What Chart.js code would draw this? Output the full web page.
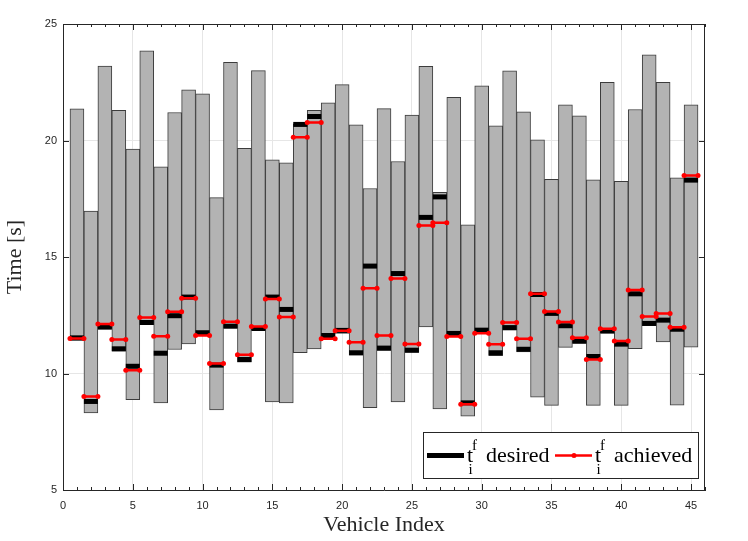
<!DOCTYPE html>
<html>
<head>
<meta charset="utf-8">
<script src="https://cdn.jsdelivr.net/npm/chart.js@4.4.1/dist/chart.umd.min.js"></script>
<style>
  html,body{margin:0;background:#fff}
  canvas{display:block}
</style>
</head>
<body>
<canvas id="chart" width="748" height="541"></canvas>
<script>
// vehicle index on x, arrival time window [s] as grey bars
const vehicles = Array.from({length: 45}, (_, i) => i + 1);
const windowLatest = [21.36,16.97,23.19,21.30,19.63,23.85,18.87,21.20,22.17,22.00,17.55,23.36,19.66,23.00,19.17,19.04,20.72,21.29,21.62,22.40,20.67,17.94,21.37,19.10,21.09,23.18,17.78,21.85,16.38,22.35,20.63,22.99,21.23,20.03,18.33,21.53,21.06,18.31,22.50,18.25,21.33,23.68,22.50,18.40,21.53];
const windowEarliest = [11.42,8.31,11.93,10.96,8.88,12.10,8.74,11.03,11.27,11.67,8.44,11.96,10.49,11.87,8.78,8.74,10.89,11.06,11.57,11.72,10.79,8.53,10.99,8.78,10.90,12.00,8.48,11.65,8.17,11.78,10.77,11.86,10.93,8.98,8.63,11.12,11.29,8.63,11.74,8.63,11.07,12.05,11.36,8.64,11.13];
const desired = [11.53,8.80,11.99,11.06,10.31,12.19,10.87,12.48,13.28,11.75,10.36,12.03,10.60,11.93,13.28,12.75,20.69,21.03,11.63,11.85,10.89,14.61,11.09,14.29,11.00,16.70,17.58,11.72,8.74,11.86,10.89,11.97,11.04,13.39,12.58,12.05,11.39,10.73,11.82,11.26,13.42,12.15,12.29,11.90,18.30];
const achieved = [11.50,9.01,12.12,11.46,10.14,12.40,11.60,12.65,13.23,11.63,10.43,12.22,10.80,12.02,13.20,12.42,20.14,20.77,11.49,11.83,11.34,13.66,11.63,14.08,11.27,16.35,16.47,11.59,8.68,11.73,11.26,12.19,11.49,13.42,12.66,12.21,11.53,10.60,11.92,11.39,13.58,12.45,12.58,11.99,18.50];
const xTicks = [0,5,10,15,20,25,30,35,40,45];
const yTicks = [5,10,15,20,25];

const axisCol = '#262626';
Chart.defaults.font.family = '"Liberation Sans", Arial, sans-serif';

// red segment per vehicle, broken by a null point
const achievedPts = vehicles.flatMap((v, i) => [{x: v - 0.5, y: achieved[i]}, {x: v + 0.5, y: achieved[i]}, {x: v, y: null}]);

function drawLabel(ctx, x, word) {
  ctx.fillStyle = '#000';
  ctx.textAlign = 'left';
  ctx.textBaseline = 'alphabetic';
  ctx.font = '22px "Liberation Serif"';
  ctx.fillText('t', x, 462);
  ctx.font = '15px "Liberation Serif"';
  ctx.fillText('f', x + 5, 450);
  ctx.fillText('i', x + 1.5, 474);
  ctx.font = '22px "Liberation Serif"';
  ctx.fillText(word, x + 19, 462);
}

const framePlugin = {
  id: 'frame',
  afterDatasetsDraw(chart) {
    const {ctx, chartArea: a, scales: {x, y}} = chart;
    ctx.save();
    ctx.strokeStyle = axisCol;
    ctx.lineWidth = 1;
    ctx.beginPath();
    ctx.moveTo(a.left, a.top + 0.5); ctx.lineTo(a.right, a.top + 0.5);
    ctx.moveTo(a.right - 0.5, a.top); ctx.lineTo(a.right - 0.5, a.bottom);
    for (let v = 0; v <= 46; v++) {
      const px = Math.round(x.getPixelForValue(v)) + 0.5;
      const len = v % 5 === 0 ? 6 : 3;
      ctx.moveTo(px, a.bottom); ctx.lineTo(px, a.bottom - len);
      ctx.moveTo(px, a.top); ctx.lineTo(px, a.top + len);
    }
    yTicks.forEach(v => {
      const py = Math.round(y.getPixelForValue(v)) + 0.5;
      ctx.moveTo(a.left, py); ctx.lineTo(a.left + 6, py);
      ctx.moveTo(a.right, py); ctx.lineTo(a.right - 6, py);
    });
    ctx.stroke();

    // legend box
    ctx.fillStyle = '#fff';
    ctx.fillRect(423.5, 432.5, 275, 46);
    ctx.strokeRect(423.5, 432.5, 275, 46);
    ctx.strokeStyle = '#000'; ctx.lineWidth = 5;
    ctx.beginPath(); ctx.moveTo(427, 455.5); ctx.lineTo(464, 455.5); ctx.stroke();
    ctx.strokeStyle = '#ff0000'; ctx.lineWidth = 2.5;
    ctx.beginPath(); ctx.moveTo(555, 455.5); ctx.lineTo(592, 455.5); ctx.stroke();
    ctx.fillStyle = '#ff0000';
    ctx.beginPath(); ctx.arc(574, 455.5, 2.5, 0, Math.PI * 2); ctx.fill();
    drawLabel(ctx, 467, 'desired');
    drawLabel(ctx, 595, 'achieved');
    ctx.restore();
  }
};

new Chart(document.getElementById('chart'), {
  type: 'bar',
  data: {
    datasets: [
      {
        type: 'line', label: 'achieved', order: 0,
        data: achievedPts,
        borderColor: '#ff0000', borderWidth: 2.5, spanGaps: false,
        pointRadius: 2.5, pointBackgroundColor: '#ff0000', pointBorderColor: '#ff0000', pointBorderWidth: 0
      },
      {
        type: 'line', label: 'desired', order: 1, showLine: false,
        data: vehicles.map((v, i) => ({x: v, y: desired[i]})),
        pointStyle: 'line', pointRadius: 7, pointBorderWidth: 5, pointBorderColor: '#000', pointBackgroundColor: '#000'
      },
      {
        type: 'bar', label: 'window', order: 2,
        data: vehicles.map((v, i) => ({x: v, y: [windowEarliest[i], windowLatest[i]]})),
        backgroundColor: '#b3b3b3', borderColor: '#3c3c3c', borderWidth: 1, borderSkipped: false,
        barPercentage: 1, categoryPercentage: 1
      }
    ]
  },
  options: {
    responsive: false,
    animation: false,
    events: [],
    layout: {padding: {top: 24, right: 43, left: 0, bottom: 0}},
    plugins: {legend: {display: false}, tooltip: {enabled: false}},
    scales: {
      x: {
        type: 'linear', min: 0, max: 46, offset: false,
        afterBuildTicks: s => { s.ticks = xTicks.map(v => ({value: v})); },
        afterFit: s => { s.height = 51; },
        ticks: {color: axisCol, font: {size: 11}, padding: 9, maxRotation: 0},
        grid: {color: '#e6e6e6', drawTicks: false, offset: false},
        border: {color: axisCol},
        title: {display: true, text: 'Vehicle Index', color: axisCol, font: {family: '"Liberation Serif"', size: 22}, padding: {bottom: 3, top: 0}}
      },
      y: {
        min: 5, max: 25,
        afterBuildTicks: s => { s.ticks = yTicks.map(v => ({value: v})); },
        afterFit: s => { s.width = 63; },
        ticks: {color: axisCol, font: {size: 11}, padding: 6},
        grid: {color: '#e6e6e6', drawTicks: false},
        border: {color: axisCol},
        title: {display: true, text: 'Time [s]', color: axisCol, font: {family: '"Liberation Serif"', size: 22}, padding: {top: 2, bottom: 0}}
      }
    }
  },
  plugins: [framePlugin]
});
</script>
</body>
</html>
